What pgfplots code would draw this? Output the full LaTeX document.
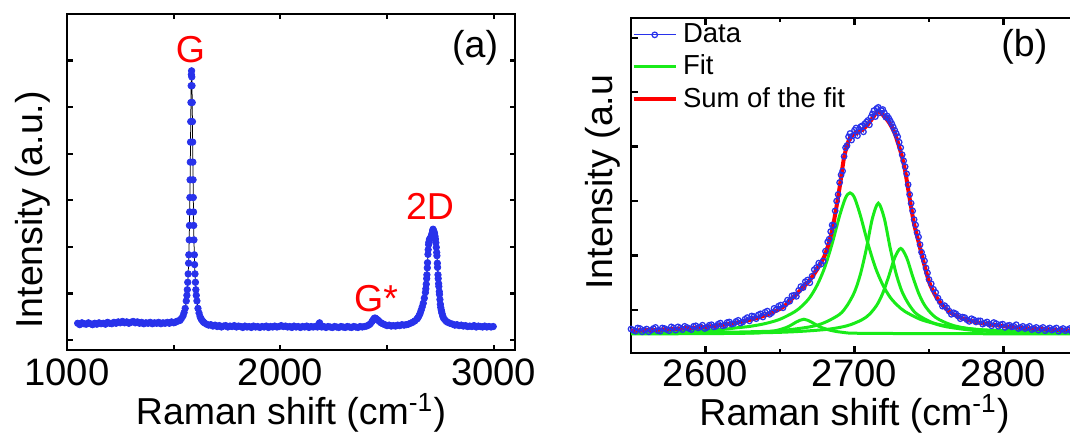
\documentclass[border=0pt]{standalone}
\usepackage{fontspec}
\setmainfont{Liberation Sans}
\usepackage{pgfplots}
\pgfplotsset{compat=1.18}
\definecolor{ptblue}{RGB}{40,50,235}
\definecolor{fitgreen}{RGB}{25,235,25}
\definecolor{sumred}{RGB}{255,0,0}

\pgfplotsset{
  ramanaxis/.style={
    scale only axis,
    axis line style={line width=1.1pt},
    every tick/.style={black, line width=0.9pt},
    tick align=inside,
    yticklabels={},
    /pgf/number format/assume math mode=true,
    /pgf/number format/1000 sep={},
    ticklabel style={font=\fontsize{15.3}{18}\selectfont},
    label style={font=\fontsize{15}{18}\selectfont, inner sep=0pt},
    xticklabel style={anchor=base, yshift=-14pt, inner sep=0pt},
  },
}

\begin{document}
\begin{tikzpicture}
\useasboundingbox (0,0) rectangle (428pt,175.2pt);

% (a) full spectrum
\begin{axis}[ramanaxis,
  at={(26.8pt,35.2pt)}, anchor=south west,
  width=179.2pt, height=134.4pt,
  xmin=1000, xmax=3100, ymin=-0.214, ymax=7,
  xtick={1000,2000,3000}, minor xtick={1500,2500},
  ytick={0,...,6},
  major tick length=2.2pt, minor tick length=2pt,
  xlabel={Raman shift (cm\textsuperscript{-1})},
  ylabel={Intensity (a.u.)},
  xlabel style={at={(axis description cs:0.5,-0.222)}, anchor=base},
  ylabel style={at={(axis description cs:-0.076,0.417)}, anchor=center},
]
\addplot[black, line width=0.3pt, mark=*, mark size=1.3pt,
  mark options={draw=ptblue, fill=ptblue}] table {
1050 0.36
1060 0.33
1070 0.37
1080 0.35
1090 0.34
1100 0.37
1110 0.35
1120 0.33
1130 0.36
1140 0.34
1150 0.37
1160 0.35
1170 0.36
1180 0.34
1190 0.38
1200 0.36
1210 0.35
1220 0.38
1230 0.36
1240 0.39
1250 0.37
1260 0.40
1270 0.37
1280 0.39
1290 0.36
1300 0.38
1310 0.40
1320 0.37
1330 0.39
1340 0.36
1350 0.38
1360 0.35
1370 0.37
1380 0.36
1390 0.38
1400 0.35
1410 0.37
1420 0.36
1430 0.38
1440 0.35
1450 0.37
1460 0.36
1470 0.38
1480 0.36
1490 0.39
1500 0.37
1507 0.38
1514 0.40
1521 0.41
1529 0.42
1536 0.46
1544 0.52
1549 0.59
1554 0.68
1559 0.84
1562 0.96
1564 1.08
1566 1.24
1568 1.42
1570 1.65
1571 1.83
1573 2.15
1574 2.46
1575 2.75
1576 3.06
1577 3.44
1578 3.82
1579 4.25
1580 4.69
1581 5.10
1582 5.46
1583 5.70
1584 5.78
1585 5.65
1586 5.46
1587 5.10
1588 4.69
1589 4.25
1590 3.82
1591 3.44
1592 3.06
1593 2.75
1594 2.46
1595 2.15
1597 1.83
1598 1.62
1600 1.42
1602 1.24
1604 1.08
1606 0.96
1609 0.84
1614 0.68
1619 0.58
1624 0.50
1629 0.45
1634 0.42
1639 0.39
1644 0.37
1654 0.34
1664 0.32
1674 0.33
1684 0.30
1694 0.32
1704 0.29
1714 0.31
1724 0.28
1734 0.30
1744 0.31
1754 0.28
1764 0.30
1774 0.29
1784 0.31
1794 0.28
1804 0.30
1814 0.29
1824 0.27
1834 0.30
1844 0.28
1854 0.29
1864 0.27
1874 0.30
1884 0.28
1894 0.29
1904 0.27
1914 0.29
1924 0.28
1934 0.30
1944 0.27
1954 0.29
1964 0.28
1974 0.30
1984 0.28
1994 0.29
2004 0.31
2014 0.29
2024 0.30
2034 0.28
2044 0.29
2054 0.27
2064 0.30
2074 0.28
2084 0.29
2094 0.27
2104 0.29
2114 0.28
2124 0.30
2134 0.27
2144 0.29
2154 0.28
2164 0.29
2174 0.28
2180 0.34
2184 0.37
2188 0.30
2194 0.28
2204 0.29
2214 0.27
2224 0.29
2234 0.28
2244 0.27
2254 0.29
2264 0.28
2274 0.27
2284 0.29
2294 0.28
2304 0.27
2314 0.29
2324 0.28
2334 0.27
2344 0.29
2354 0.28
2364 0.27
2374 0.29
2384 0.28
2394 0.29
2404 0.30
2414 0.32
2422 0.35
2430 0.40
2436 0.44
2441 0.47
2446 0.47
2451 0.45
2457 0.43
2464 0.40
2472 0.37
2480 0.35
2490 0.33
2500 0.31
2510 0.32
2520 0.30
2530 0.31
2540 0.30
2550 0.32
2560 0.31
2570 0.33
2580 0.32
2590 0.33
2600 0.34
2610 0.36
2620 0.38
2630 0.41
2640 0.45
2645 0.48
2650 0.52
2655 0.57
2660 0.64
2665 0.71
2670 0.79
2675 0.90
2680 1.02
2682 1.10
2684 1.20
2686 1.32
2687 1.40
2689 1.55
2690 1.66
2692 1.84
2693 1.94
2695 2.05
2696 2.10
2699 2.16
2701 2.17
2703 2.18
2705 2.20
2707 2.22
2709 2.25
2711 2.29
2714 2.35
2716 2.38
2719 2.34
2721 2.31
2723 2.28
2725 2.23
2727 2.17
2729 2.09
2731 1.99
2733 1.88
2734 1.81
2736 1.65
2737 1.56
2739 1.40
2740 1.32
2742 1.21
2743 1.15
2745 1.04
2746 0.98
2748 0.87
2750 0.77
2752 0.70
2754 0.65
2756 0.61
2758 0.57
2761 0.52
2764 0.48
2770 0.44
2778 0.40
2785 0.38
2795 0.36
2808 0.34
2818 0.32
2828 0.33
2838 0.31
2848 0.32
2858 0.30
2868 0.31
2878 0.29
2888 0.30
2898 0.29
2908 0.31
2918 0.28
2928 0.30
2938 0.29
2948 0.28
2958 0.30
2968 0.28
2978 0.29
2988 0.28
2998 0.29
};
\node[text=sumred, font=\fontsize{15}{18}\selectfont] at (axis cs:1579,6.23) {G};
\node[text=sumred, font=\fontsize{15}{18}\selectfont] at (axis cs:2449,0.90) {G*};
\node[text=sumred, font=\fontsize{15}{18}\selectfont] at (axis cs:2702,2.87) {2D};
\node[font=\fontsize{15}{18}\selectfont] at (axis cs:2913,6.28) {(a)};
\end{axis}

% (b) 2D band with its fit
\begin{axis}[ramanaxis,
  at={(252.4pt,34pt)}, anchor=south west,
  width=178.8pt, height=134pt,
  xmin=2550, xmax=2850, ymin=0.21, ymax=6.36,
  xtick={2600,2700,2800}, minor xtick={2550,2650,2750,2850},
  ytick={1,...,6},
  major tick length=2.9pt, minor tick length=1.6pt,
  xticklabel style={yshift=0.8pt},
  xlabel={Raman shift (cm\textsuperscript{-1})},
  ylabel={Intensity (a.u},
  xlabel style={at={(axis description cs:0.5,-0.216)}, anchor=base},
  ylabel style={at={(axis description cs:-0.063,0.51)}, anchor=center},
  legend cell align=left,
  legend style={at={(0,1)}, anchor=north west, draw=none, fill=none,
    font=\fontsize{11}{13}\selectfont, inner xsep=0pt, inner ysep=0pt,
    row sep=-0.5pt},
  legend image code/.code={\draw[mark repeat=2,mark phase=2,#1]
    plot coordinates {(0pt,0pt)(8.5pt,0pt)(17pt,0pt)};},
]
\addplot[ptblue, line width=0.4pt, mark=o, mark size=1.1pt,
  mark options={line width=0.5pt}] table {
2550 0.65
2553 0.61
2556 0.66
2559 0.63
2562 0.60
2565 0.66
2568 0.62
2571 0.67
2574 0.64
2577 0.69
2580 0.63
2583 0.67
2586 0.70
2589 0.66
2592 0.70
2595 0.67
2598 0.72
2601 0.68
2604 0.73
2607 0.70
2610 0.76
2613 0.72
2616 0.78
2619 0.75
2622 0.81
2625 0.78
2628 0.86
2631 0.89
2634 0.84
2637 0.93
2640 0.96
2643 0.92
2646 1.03
2649 1.07
2652 1.04
2655 1.18
2658 1.26
2661 1.25
2664 1.43
2667 1.52
2670 1.50
2673 1.74
2676 1.86
2679 1.90
2682 2.25
2684 2.44
2686 2.55
2688 3.00
2690 3.34
2692 3.55
2694 3.98
2696 4.18
2698 4.12
2700 4.30
2702 4.20
2704 4.36
2706 4.27
2708 4.45
2710 4.40
2712 4.60
2714 4.55
2716 4.72
2718 4.66
2720 4.62
2722 4.56
2724 4.47
2726 4.36
2728 4.24
2730 4.08
2732 3.85
2734 3.63
2736 3.30
2738 2.96
2740 2.66
2742 2.42
2744 2.20
2746 1.98
2748 1.77
2750 1.56
2753 1.38
2756 1.22
2759 1.07
2762 1.04
2765 0.92
2768 0.93
2771 0.84
2774 0.86
2777 0.79
2780 0.82
2783 0.80
2786 0.74
2789 0.78
2792 0.71
2795 0.75
2798 0.73
2801 0.68
2804 0.72
2807 0.70
2810 0.66
2813 0.70
2816 0.68
2819 0.64
2822 0.68
2825 0.66
2828 0.62
2831 0.67
2834 0.65
2837 0.61
2840 0.66
2843 0.64
2846 0.60
};
\addlegendentry{Data}
\addplot[ptblue, only marks, mark=o, mark size=1.1pt,
  mark options={line width=0.5pt}, forget plot] table {
2551.5 0.63
2554.5 0.67
2557.5 0.60
2560.5 0.65
2563.5 0.63
2566.5 0.68
2569.5 0.61
2572.5 0.66
2575.5 0.62
2578.5 0.67
2581.5 0.69
2584.5 0.64
2587.5 0.68
2590.5 0.64
2593.5 0.71
2596.5 0.69
2599.5 0.66
2602.5 0.72
2605.5 0.69
2608.5 0.74
2611.5 0.71
2614.5 0.77
2617.5 0.74
2620.5 0.79
2623.5 0.76
2626.5 0.83
2629.5 0.80
2632.5 0.88
2635.5 0.91
2638.5 0.87
2641.5 0.98
2644.5 0.95
2647.5 1.01
2650.5 1.09
2653.5 1.11
2656.5 1.16
2659.5 1.27
2662.5 1.36
2665.5 1.41
2668.5 1.55
2671.5 1.62
2674.5 1.78
2677.5 1.84
2680.5 2.08
2683 2.30
2685 2.56
2687 2.82
2689 3.12
2691 3.48
2693 3.82
2695 4.02
2697 4.24
2699 4.20
2701 4.34
2703 4.31
2705 4.38
2707 4.42
2709 4.48
2711 4.54
2713 4.66
2715 4.70
2717 4.62
2719 4.68
2721 4.54
2723 4.52
2725 4.42
2727 4.30
2729 4.18
2731 3.98
2733 3.74
2735 3.50
2737 3.12
2739 2.82
2741 2.56
2743 2.34
2745 2.06
2747 1.90
2749 1.68
2751.5 1.48
2754.5 1.32
2757.5 1.15
2760.5 1.08
2763.5 0.98
2766.5 0.95
2769.5 0.89
2772.5 0.87
2775.5 0.82
2778.5 0.84
2781.5 0.78
2784.5 0.80
2787.5 0.76
2790.5 0.74
2793.5 0.77
2796.5 0.70
2799.5 0.74
2802.5 0.71
2805.5 0.69
2808.5 0.73
2811.5 0.68
2814.5 0.66
2817.5 0.70
2820.5 0.66
2823.5 0.63
2826.5 0.68
2829.5 0.65
2832.5 0.63
2835.5 0.67
2838.5 0.64
2841.5 0.62
2844.5 0.66
2847.5 0.63
};
% Lorentzian components
\addplot[fitgreen, line width=1.2pt, smooth] table {
2550 0.59
2570 0.60
2590 0.62
2610 0.64
2620 0.67
2630 0.70
2640 0.75
2650 0.83
2660 0.97
2665 1.08
2670 1.23
2675 1.46
2680 1.78
2685 2.22
2690 2.73
2694 3.06
2697 3.15
2700 3.06
2704 2.73
2709 2.22
2714 1.78
2719 1.46
2724 1.23
2729 1.08
2734 0.97
2744 0.83
2754 0.75
2764 0.70
2784 0.64
2804 0.62
2824 0.60
2850 0.59
};
\addlegendentry{Fit}
\addplot[fitgreen, line width=1.2pt, smooth, forget plot] table {
2550 0.57
2590 0.58
2630 0.60
2650 0.62
2670 0.69
2680 0.77
2690 0.92
2695 1.08
2700 1.33
2704 1.66
2708 2.13
2712 2.68
2716 2.96
2720 2.68
2724 2.13
2728 1.66
2732 1.33
2737 1.08
2742 0.92
2752 0.77
2762 0.69
2782 0.62
2802 0.60
2850 0.58
};
\addplot[fitgreen, line width=1.2pt, smooth, forget plot] table {
2550 0.57
2600 0.57
2650 0.59
2680 0.64
2695 0.71
2705 0.82
2710 0.92
2715 1.09
2719 1.31
2723 1.62
2727 1.96
2731 2.13
2735 1.96
2739 1.62
2743 1.31
2747 1.09
2752 0.92
2757 0.82
2767 0.71
2782 0.64
2812 0.59
2850 0.57
};
\addplot[fitgreen, line width=1.2pt, smooth, forget plot] table {
2550 0.56
2620 0.57
2640 0.59
2650 0.64
2656 0.70
2661 0.78
2666 0.83
2671 0.78
2676 0.70
2682 0.64
2692 0.59
2712 0.57
2850 0.56
};
\addplot[sumred, line width=1.6pt, smooth] table {
2550 0.62
2570 0.64
2590 0.67
2600 0.69
2610 0.72
2620 0.76
2630 0.82
2640 0.90
2650 1.02
2655 1.12
2660 1.26
2665 1.40
2670 1.55
2675 1.75
2680 2.00
2684 2.35
2687 2.75
2690 3.25
2693 3.80
2696 4.10
2699 4.22
2703 4.27
2707 4.35
2711 4.48
2714 4.60
2716 4.65
2719 4.58
2723 4.45
2727 4.24
2731 3.90
2734 3.55
2737 3.05
2740 2.58
2743 2.25
2746 1.92
2750 1.52
2754 1.28
2758 1.12
2764 0.96
2770 0.87
2778 0.80
2785 0.76
2795 0.72
2808 0.68
2825 0.65
2850 0.62
};
\addlegendentry{Sum of the fit}
\node[font=\fontsize{15}{18}\selectfont] at (axis cs:2814,5.84) {(b)};
\end{axis}
\end{tikzpicture}
\end{document}
